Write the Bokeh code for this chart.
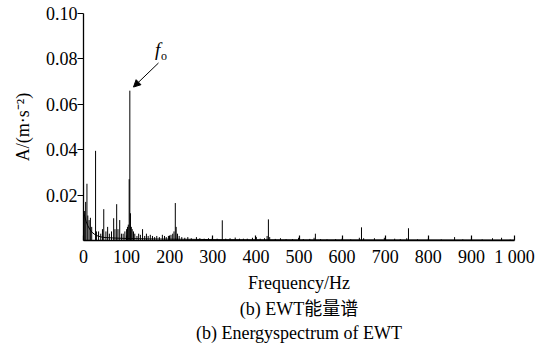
from bokeh.plotting import figure
from bokeh.models import Label, Arrow, NormalHead, FixedTicker, ColumnDataSource, PrintfTickFormatter, Title
from bokeh.embed import file_html
from bokeh.resources import INLINE

# ---- data ----
base_freq = [0, 3, 6, 10, 15, 20, 25, 30, 40, 50, 70, 100, 150, 200, 300, 500, 1000]
base_amp = [0.0125, 0.0105, 0.0085, 0.0065, 0.0048, 0.0036, 0.0028, 0.0022, 0.0016,
            0.0013, 0.0011, 0.0009, 0.0007, 0.0006, 0.0004, 0.0003, 0.0002]

peak_freq = [2, 5, 8, 10, 13, 16, 19, 28, 30, 35, 40, 44, 47, 52, 56, 60, 65, 70, 73, 77,
             80, 84, 88, 92, 96, 100, 102, 104, 106, 107.5, 109, 111, 113, 116, 119, 124,
             128, 132, 137, 142, 146, 150, 155, 160, 165, 170, 176, 183, 188, 192, 197,
             203, 207, 210, 213, 215, 218, 222, 228, 235, 242, 250, 262, 270, 280, 290,
             299, 310, 322, 330, 340, 352, 362, 371, 380, 392, 401, 410, 420, 426, 429,
             432, 445, 457, 470, 485, 499, 510, 525, 535, 538, 550, 565, 585, 600, 620,
             640, 645, 650, 675, 698, 722, 735, 750, 754, 775, 800, 830, 861, 880, 900,
             925, 949, 970, 990]
peak_amp = [0.013, 0.017, 0.025, 0.011, 0.009, 0.010, 0.006, 0.0395, 0.004, 0.004, 0.003,
            0.005, 0.0138, 0.004, 0.006, 0.003, 0.004, 0.0098, 0.005, 0.016, 0.005, 0.009,
            0.003, 0.003, 0.004, 0.005, 0.006, 0.007, 0.027, 0.066, 0.012, 0.006, 0.005,
            0.004, 0.003, 0.002, 0.003, 0.0025, 0.005, 0.002, 0.003, 0.002, 0.0025, 0.002,
            0.0015, 0.002, 0.0015, 0.0025, 0.002, 0.0015, 0.002, 0.0025, 0.003, 0.004,
            0.0165, 0.006, 0.003, 0.002, 0.0015, 0.0012, 0.0015, 0.001, 0.0015, 0.001,
            0.0008, 0.001, 0.0012, 0.0008, 0.0089, 0.0008, 0.001, 0.0013, 0.0008, 0.0008,
            0.0008, 0.0012, 0.0015, 0.0008, 0.001, 0.002, 0.0093, 0.0015, 0.0007, 0.001,
            0.0006, 0.0006, 0.0012, 0.0006, 0.0007, 0.0012, 0.003, 0.0006, 0.0005, 0.0006,
            0.0008, 0.0005, 0.0012, 0.0058, 0.001, 0.001, 0.0012, 0.0008, 0.0006, 0.001,
            0.0054, 0.0005, 0.0008, 0.0005, 0.0015, 0.0005, 0.0008, 0.0005, 0.001, 0.0012,
            0.0004]

x_ticks = [0, 100, 200, 300, 400, 500, 600, 700, 800, 900, 1000]
x_tick_labels = ["0", "100", "200", "300", "400", "500", "600", "700", "800", "900", "1 000"]
y_ticks = [0.02, 0.04, 0.06, 0.08, 0.10]

FONT = "Liberation Serif"

p = figure(width=551, height=343, output_backend="svg", toolbar_location=None,
           x_range=(0, 1000), y_range=(0, 0.1),
           min_border_left=83, min_border_right=37, min_border_top=13, min_border_bottom=20)
p.outline_line_color = None
p.grid.visible = False

peaks = ColumnDataSource(dict(f=peak_freq, a=peak_amp, z=[0] * len(peak_freq)))
p.segment(x0="f", y0="z", x1="f", y1="a", source=peaks, line_color="black", line_width=1)
p.line(base_freq, base_amp, line_color="black", line_width=1)

# axes
xa = p.xaxis[0]
xa.ticker = FixedTicker(ticks=x_ticks)
xa.major_label_overrides = {t: s for t, s in zip(x_ticks, x_tick_labels)}
xa.minor_tick_line_color = None
xa.major_tick_in = 5
xa.major_tick_out = 0
xa.major_label_standoff = 6
xa.axis_label = "Frequency/Hz"
xa.axis_label_standoff = 3

ya = p.yaxis[0]
ya.ticker = FixedTicker(ticks=y_ticks)
ya.formatter = PrintfTickFormatter(format="%.2f")
ya.minor_tick_line_color = None
ya.major_tick_in = 0
ya.major_tick_out = 6
ya.major_label_standoff = 0
ya.axis_label = "A/(m·s⁻²)"
ya.axis_label_standoff = 10

for ax in (xa, ya):
    ax.axis_line_color = "black"
    ax.axis_line_width = 1.3
    ax.major_tick_line_color = "black"
    ax.major_tick_line_width = 1.2
    ax.major_label_text_font = FONT
    ax.major_label_text_font_size = "18px"
    ax.major_label_text_color = "black"
    ax.axis_label_text_font = FONT
    ax.axis_label_text_font_size = "18px"
    ax.axis_label_text_font_style = "normal"
    ax.axis_label_text_color = "black"

# f_o annotation with arrow
p.add_layout(Label(x=172, y=0.084, text="f", text_font=FONT, text_font_size="19px",
                   text_font_style="italic", text_align="center", text_baseline="middle",
                   text_color="black"))
p.add_layout(Label(x=187, y=0.0812, text="o", text_font=FONT, text_font_size="12px",
                   text_align="center", text_baseline="middle", text_color="black"))
p.add_layout(Arrow(x_start=174, y_start=0.0782, x_end=116, y_end=0.0676,
                   line_color="black", line_width=1,
                   end=NormalHead(size=7, fill_color="black", line_color="black")))

# captions below the x axis
p.add_layout(Title(text="(b) EWT能量谱", align="center", standoff=2,
                   text_font="Liberation Serif, Noto Sans CJK SC", text_font_size="18px",
                   text_font_style="normal", text_color="black"), "below")
p.add_layout(Title(text="(b) Energyspectrum of EWT", align="center", standoff=2,
                   text_font=FONT, text_font_size="18px",
                   text_font_style="normal", text_color="black"), "below")

open("out.html", "w").write(file_html(p, INLINE))
